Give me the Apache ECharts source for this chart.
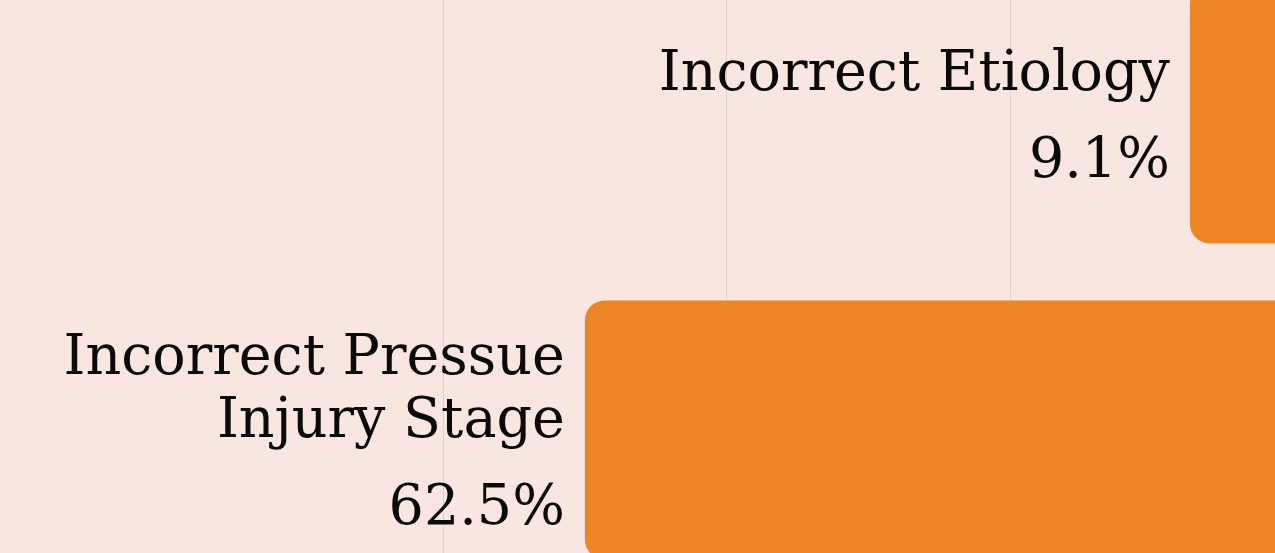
<!DOCTYPE html>
<html>
<head>
<meta charset="utf-8">
<script src="https://cdn.jsdelivr.net/npm/echarts@6/dist/echarts.min.js"></script>
<style>
html,body{margin:0;padding:0;background:#F9E6E0;overflow:hidden;width:1275px;height:553px;position:relative;}
#chart{position:absolute;left:0;top:-44px;width:1293px;height:632px;}
</style>
</head>
<body>
<div id="chart"></div>
<script>
const categories = ['Incorrect Etiology', 'Incorrect Pressue\nInjury Stage'];
const values = [9.1, 62.5];
const xTicks = [0, 25, 50, 75, 100];

const chart = echarts.init(document.getElementById('chart'), null, {renderer: 'canvas'});
const FONT = '"DejaVu Serif", "Liberation Serif", serif';
chart.setOption({
  backgroundColor: '#F9E6E0',
  animation: false,
  grid: {left: 160, right: 0, top: 0, bottom: 0, containLabel: false},
  xAxis: {
    type: 'value', inverse: true,
    min: xTicks[0], max: xTicks[xTicks.length - 1], interval: 25,
    axisLabel: {show: false}, axisLine: {show: false}, axisTick: {show: false},
    splitLine: {show: true, lineStyle: {color: ['transparent', '#DFD2CD', '#DFD2CD', '#DFD2CD'], width: 1}}
  },
  yAxis: {
    type: 'category', inverse: true, data: categories,
    axisLabel: {show: false}, axisLine: {show: false}, axisTick: {show: false}, splitLine: {show: false}
  },
  series: [{
    type: 'bar',
    data: values,
    barWidth: 259,
    itemStyle: {color: '#EE8524', borderRadius: [20, 0, 0, 20]},
    label: {
      show: true, position: 'left', distance: 20, offset: [0, -7],
      formatter: function (p) {
        const lines = p.name.split('\n').map(l => '{n|' + l + '}').join('\n');
        return lines + '\n{v|' + p.value + '%}';
      },
      rich: {
        n: {fontFamily: FONT, fontSize: 55.5, lineHeight: 63, color: '#0a0a0a', align: 'right'},
        v: {fontFamily: FONT, fontSize: 55.5, lineHeight: 63, color: '#0a0a0a', align: 'right', padding: [48, 0, 0, 0]}
      }
    }
  }]
});
</script>
</body>
</html>
